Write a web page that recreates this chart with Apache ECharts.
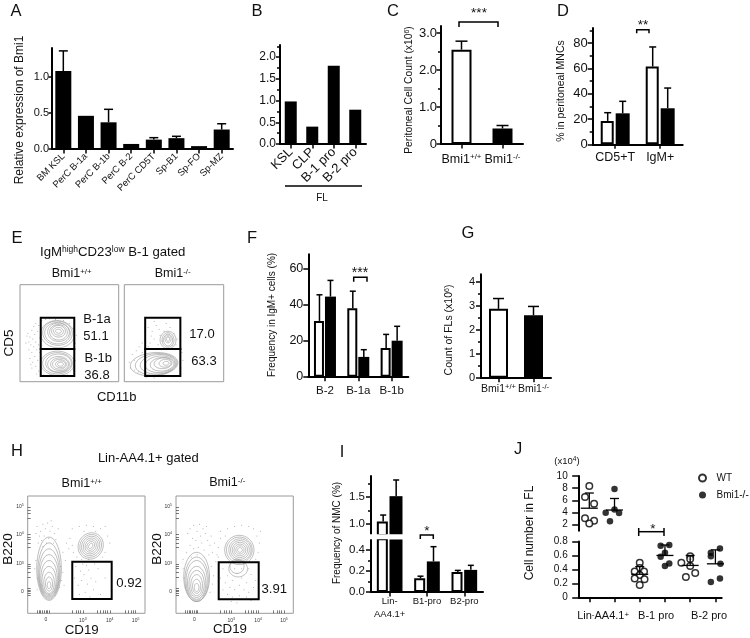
<!DOCTYPE html>
<html>
<head>
<meta charset="utf-8">
<style>html,body{margin:0;padding:0;background:#fff}#chart{width:750px;height:638px}</style>
<script src="https://cdn.jsdelivr.net/npm/echarts@6/dist/echarts.min.js"></script>
</head>
<body>
<div id="chart"></div>
<script>
// panel A
const catsA = ['BM KSL', 'PerC B-1a', 'PerC B-1b', 'PerC B-2', 'PerC CD5T', 'Sp-B1', 'Sp-FO', 'Sp-MZ'];
const valuesA = [1.08, 0.46, 0.37, 0.07, 0.13, 0.15, 0.04, 0.27];
const errTopA = [1.36, 0.46, 0.55, 0.07, 0.157, 0.176, 0.04, 0.35];
// panel B
const catsB = ['KSL', 'CLP', 'B-1 pro', 'B-2 pro'];
const valuesB = [0.98, 0.4, 1.8, 0.79];
// panel C
const catsC = ['{n|Bmi1}{s|+/+}', '{n|Bmi1}{s|-/-}'];
const valuesC = [2.55, 0.42];
const errTopC = [2.78, 0.5];
// panel D
const catsD = ['CD5+T', 'IgM+'];
const wtD = [18.5, 61.5];
const koD = [24.5, 28.5];
const wtErrD = [25, 77];
const koErrD = [34, 44.5];
// panel F
const catsF = ['B-2', 'B-1a', 'B-1b'];
const wtF = [31, 38, 16];
const koF = [44.5, 11, 20];
const wtErrF = [45.5, 47.5, 23.5];
const koErrF = [53.5, 15, 28];
// panel G
const catsG = ['{n|Bmi1}{s|+/+}', '{n|Bmi1}{s|-/-}'];
const valuesG = [2.87, 2.6];
const errTopG = [3.3, 2.97];
// panel I
const catsI = ['Lin-\nAA4.1+', 'B1-pro', 'B2-pro'];
const wtI = [1.05, 0.13, 0.19];
const koI = [1.52, 0.29, 0.21];
const wtErrI = [1.17, 0.15, 0.205];
const koErrI = [1.82, 0.43, 0.253];
// panel J, x is the tick number with its jitter
const wtHighJ = [[1, 8.35], [0.83, 6.55], [1.19, 5.45], [0.83, 3.05], [1.19, 2.65], [1, 2.2]];
const koHighJ = [[2, 7.85], [1.65, 3.95], [2, 4.5], [2.18, 3.9], [1.82, 2.55]];
const wtLowJ = [[3, 0.495], [3, 0.42], [2.8, 0.37], [3.17, 0.37], [3, 0.32], [2.8, 0.27], [3.19, 0.26], [3, 0.176],
  [5, 0.59], [5, 0.55], [4.65, 0.495], [5, 0.45], [5.2, 0.35], [4.83, 0.29]];
const koLowJ = [[3.83, 0.74], [4.17, 0.75], [4, 0.64], [3.83, 0.58], [4.17, 0.485], [4, 0.45],
  [5.82, 0.64], [6.18, 0.7], [5.82, 0.59], [6.2, 0.48], [6.18, 0.27], [5.82, 0.22]];
// [x, mean, top of error bar]
const summaryHighJ = [[1, 4.7, 7.2], [2, 4.4, 6.3]];
const summaryLowJ = [[3, 0.33, 0.44], [4, 0.6, 0.75], [5, 0.457, 0.6], [6, 0.48, 0.68]];
const labelsJ = ['{n|Lin}{s|-}{n|AA4.1}{s|+}', 'B-1 pro', 'B-2 pro'];
const labelTicksJ = [1.55, 3.65, 5.75];

// flow plots, display channels 0-100. contours are [cx, cy, rx, ry, tilt]
const gatesEwt = [[21, 33.7, 55, 66], [21, 5.8, 55, 33.7]];
const gatesEko = [[21, 33.7, 56.4, 66], [21, 5.8, 56.4, 33.7]];
const contoursEwt = [[38, 49, 17, 14, -6], [38, 50, 15, 12.5, -6], [38, 50, 13, 11, -6], [39, 51, 11, 9.5, -6], [39, 51, 9, 8, -6], [39, 52, 7, 6, -6], [39, 52, 5, 4, -6], [39, 52, 3, 2, -6],
  [38, 19, 17, 12.5, 0], [38, 19, 15, 11, 0], [39, 19, 13, 9.5, 0], [39, 18, 11, 8, 0], [40, 18, 9, 6.5, 0], [40, 18, 7, 5, 0], [41, 18, 5, 3.5, 0], [41, 18, 3, 2, 0]];
const contoursEko = [[30, 18, 24, 12, 5], [32, 18, 21, 11, 5], [34, 18, 18, 10, 5], [36, 18, 15, 8.5, 5], [38, 18, 12, 7, 5], [39, 19, 9, 5.5, 5], [41, 19, 6, 4, 5], [42, 19, 3, 2, 5],
  [44, 43, 8, 9, 0], [44, 43, 6, 7.5, 0], [44, 43, 4.5, 6, 0], [44, 44, 3, 4, 0], [44, 44, 1.5, 2.5, 0]];
const dotsEwt = [[8, 50], [10, 46], [12, 53], [9, 41], [13, 44], [15, 49], [11, 38], [14, 36], [16, 41], [12, 30], [15, 26], [17, 33], [10, 24], [13, 20], [16, 16], [18, 22], [12, 14], [19, 11], [17, 8], [20, 45], [18, 52], [19, 58], [14, 57], [16, 60], [22, 63], [26, 64], [30, 65], [36, 64], [44, 63], [50, 60], [54, 55], [57, 48], [56, 40], [55, 30], [56, 22], [54, 12], [48, 7], [40, 6], [30, 7], [24, 7], [9, 33], [7, 47], [6, 40], [11, 18], [20, 30], [19, 38]];
const dotsEko = [[24, 56], [28, 52], [32, 58], [36, 48], [30, 44], [26, 40], [34, 38], [40, 52], [46, 56], [50, 50], [53, 44], [24, 36], [38, 42], [48, 37], [42, 60], [30, 62], [52, 38], [35, 54], [44, 46], [27, 47], [10, 22], [8, 28], [12, 32], [15, 36], [18, 40], [6, 14], [10, 12], [14, 10], [18, 30], [5, 20], [58, 30], [59, 22], [57, 14], [22, 4], [30, 4], [40, 5], [50, 5]];

const gatesHwt = [[38, 12.2, 71.6, 44]];
const gatesHko = [[36.4, 12, 70.5, 43.5]];
const contoursHwt = [[18.2, 38, 10.5, 27, 0], [18.2, 36, 9.5, 24, 0], [18.2, 34, 8.7, 21, 0], [18.2, 32, 8, 18, 0], [18.2, 30, 7, 15, 0], [18.2, 28, 6, 12, 0], [18.2, 26, 4.5, 9, 0], [18.2, 25, 3, 6, 0], [18.2, 24, 1.5, 3, 0],
  [53.7, 57.4, 10.5, 11.5, -30], [53.7, 57.4, 9, 10, -30], [53.7, 57.4, 7.5, 8.5, -30], [53.7, 57.4, 6, 7, -30], [53.7, 57.4, 4.5, 5.5, -30], [53.7, 57.4, 3, 4, -30], [53.7, 57.4, 1.5, 2.5, -30]];
const contoursHko = [[17.6, 31, 11, 21, 0], [17.6, 29, 10, 19, 0], [17.6, 28, 9, 17, 0], [17.6, 26, 7.8, 14, 0], [17.6, 25, 6.5, 11.5, 0], [17.6, 24, 5, 9, 0], [17.6, 23, 3.5, 6, 0], [17.6, 22, 2, 3.5, 0],
  [53, 38, 8, 7, 0], [52, 40, 6, 6, 0],
  [54, 54, 12.5, 12.5, -30], [54, 54, 11, 11, -30], [54.5, 54, 9.5, 9.5, -30], [54.5, 54, 8, 8, -30], [54.5, 54, 6.5, 6.5, -30], [54.5, 54, 5, 5, -30], [54.5, 54, 3.5, 3.5, -30], [54.5, 54, 2, 2, -30]];
const dotsHwt = [[8, 74], [11, 70], [13, 76], [10, 66], [15, 72], [17, 77], [19, 70], [14, 66], [21, 74], [23, 68], [12, 62], [18, 64], [16, 60], [24, 63], [9, 60], [26, 72], [20, 79], [7, 68], [22, 60], [13, 57],
  [7, 45], [6, 38], [8, 30], [28, 40], [30, 35], [29, 28], [27, 22], [32, 45], [30, 52], [8, 20], [31, 24],
  [38, 72], [44, 74], [50, 75], [56, 74], [62, 72], [66, 74], [36, 64], [38, 58], [39, 52], [35, 55], [68, 66], [70, 60], [66, 52], [64, 48], [60, 44], [46, 46], [42, 48], [52, 46], [48, 70], [58, 70], [33, 60],
  [41, 40], [45, 36], [50, 41], [52, 37], [48, 33], [54, 30], [46, 28], [43, 24], [51, 25], [58, 27], [60, 38], [56, 20], [49, 18], [62, 16], [44, 16], [66, 30], [40, 30], [53, 14], [57, 42], [47, 42]];
const dotsHko = [[10, 68], [12, 72], [15, 75], [18, 70], [20, 76], [23, 72], [14, 64], [17, 62], [21, 66], [25, 68], [27, 62], [29, 58], [12, 58], [15, 55], [19, 56], [24, 54], [28, 50], [31, 52], [9, 52], [22, 60], [26, 74], [18, 50], [13, 48], [30, 66], [33, 60],
  [6, 38], [7, 30], [8, 22], [30, 40], [32, 32], [31, 25], [34, 44], [35, 50], [6, 46], [29, 18],
  [38, 70], [44, 72], [50, 74], [56, 75], [62, 74], [66, 72], [69, 66], [71, 60], [70, 52], [68, 46], [36, 56], [38, 64], [36, 48], [72, 70], [42, 66],
  [40, 38], [44, 32], [48, 28], [52, 34], [56, 30], [60, 26], [64, 33], [42, 26], [46, 22], [50, 20], [54, 24], [58, 20], [62, 18], [66, 22], [44, 16], [48, 14], [54, 15], [60, 14], [40, 20], [68, 28], [38, 30], [56, 38], [62, 38], [50, 38], [52, 9], [64, 11], [47, 10]];
const flowTicksX = [8, 9.5, 11, 12.5, 14, 15.6, 17, 18.5, 38, 41, 43, 45, 47, 59, 62, 64, 66, 68, 70, 83, 86, 88, 90, 92];
const flowTicksY = [15.6, 17, 18.5, 20, 21.5, 31, 35, 38, 40, 42, 56, 60, 63, 65, 67, 81, 85, 88, 90.6];
const flowLabelPosX = [15.6, 47, 70, 92];
const flowLabelPosY = [18.5, 42, 67, 90.6];
const flowLabels = ['0', '10{t|3}', '10{t|4}', '10{t|5}'];

const FONT = '"Liberation Sans", Arial, sans-serif';
const grids = [], xAxes = [], yAxes = [], series = [], graphics = [];

function supRich(size, supSize, rise) {
  return {
    n: {fontSize: size, fontFamily: FONT, color: '#111'},
    s: {fontSize: supSize, fontFamily: FONT, color: '#111', padding: [0, 0, rise, 0]}
  };
}

// one bar panel: a grid, its category axis, a value axis and a second one for the short ticks
function addAxes(box, c) {
  const g = grids.length;
  grids.push({left: box[0], top: box[1], width: box[2], height: box[3]});
  xAxes.push({
    type: 'category', gridIndex: g, data: c.cats,
    show: c.showX !== false,
    axisLine: {lineStyle: {color: '#000', width: 2}},
    axisTick: {show: true, alignWithLabel: true, length: 4.5, lineStyle: {color: '#000', width: 1.5}},
    axisLabel: {
      interval: 0, color: '#111', fontFamily: FONT, fontSize: c.xSize || 12,
      rotate: c.rotate || 0, margin: c.xMargin || 8, lineHeight: 13,
      rich: c.xRich
    }
  });
  const y = yAxes.length;
  yAxes.push({
    type: 'value', gridIndex: g, position: 'left', min: c.range[0], max: c.range[1],
    splitLine: {show: false},
    axisLine: {show: true, onZero: false, lineStyle: {color: '#000', width: 2}},
    axisTick: {show: true, customValues: c.ticks, length: c.tick || 5, lineStyle: {color: '#000', width: 1.5}},
    axisLabel: {
      customValues: c.ticks, color: '#111', fontFamily: FONT, fontSize: c.ySize || 12, margin: c.yMargin || 5,
      formatter: v => (v === 0 && c.plainZero) ? '0' : v.toFixed(c.digits)
    }
  });
  if (c.minor) {
    yAxes.push({
      type: 'value', gridIndex: g, position: 'left', min: c.range[0], max: c.range[1],
      splitLine: {show: false}, axisLine: {show: false}, axisLabel: {show: false},
      axisTick: {show: true, customValues: c.minor, length: 3, lineStyle: {color: '#000', width: 1.5}}
    });
  }
  return {x: g, y: y};
}

function addBars(ax, values, filled, width, gap) {
  series.push({
    type: 'bar', xAxisIndex: ax.x, yAxisIndex: ax.y, data: values, barWidth: width, barGap: gap,
    itemStyle: {color: filled ? '#000' : '#fff', borderColor: '#000', borderWidth: filled ? 0 : 2},
    silent: true
  });
}

// upper arm of the error bar, shifted sideways to sit on its bar
function addErrors(ax, values, tops, offset, cap) {
  const data = values.map((v, i) => [i, v, tops[i]]).filter(d => d[1] != null && d[2] > d[1]);
  series.push({
    type: 'custom', xAxisIndex: ax.x, yAxisIndex: ax.y, data: data, silent: true, z: 3,
    encode: {x: 0, y: 2},
    renderItem: (params, api) => {
      const base = api.coord([api.value(0), api.value(1)]);
      const top = api.coord([api.value(0), api.value(2)]);
      const x = base[0] + offset;
      return {
        type: 'group', children: [
          {type: 'line', shape: {x1: x, y1: base[1], x2: x, y2: top[1]}, style: {stroke: '#000', lineWidth: 1.5}},
          {type: 'line', shape: {x1: x - cap / 2, y1: top[1], x2: x + cap / 2, y2: top[1]}, style: {stroke: '#000', lineWidth: 1.5}}
        ]
      };
    }
  });
}

// panel A
const axA = addAxes([52, 48, 181, 101], {cats: catsA, range: [0, 1.4], ticks: [0, 0.5, 1], digits: 1, ySize: 11, yMargin: 3, tick: 3.5, xSize: 9.5, rotate: 45, xMargin: 6});
addBars(axA, valuesA, true, 16);
addErrors(axA, valuesA, errTopA, 0, 9);
// panel B
const axB = addAxes([280, 45, 86, 99], {cats: catsB, range: [0, 2.28], ticks: [0, 0.5, 1, 1.5, 2], minor: [0.25, 0.75, 1.25, 1.75, 2.25], digits: 1, ySize: 12, yMargin: 4, tick: 4, xSize: 13, rotate: 45, xMargin: 6});
addBars(axB, valuesB, true, 12);
// panel C
const axC = addAxes([441, 26, 82, 118], {cats: catsC, range: [0, 3.19], ticks: [0, 1, 2, 3], minor: [0.5, 1.5, 2.5], digits: 1, plainZero: true, ySize: 13, yMargin: 4, tick: 4.5, xMargin: 9, xRich: supRich(12.5, 8, 6)});
addBars({x: axC.x, y: axC.y}, [{value: valuesC[0]}, {value: valuesC[1], itemStyle: {color: '#000'}}], false, 20);
addErrors(axC, valuesC, errTopC, 0, 12);
// panel D
const axD = addAxes([592.7, 28, 90, 116.3], {cats: catsD, range: [0, 92], ticks: [0, 20, 40, 60, 80], minor: [10, 30, 50, 70, 90], digits: 0, ySize: 13, xSize: 12.5, xMargin: 7});
addBars(axD, wtD, false, 13, '15%');
addBars(axD, koD, true, 14, '15%');
addErrors(axD, wtD, wtErrD, -7.5, 7);
addErrors(axD, koD, koErrD, 7.5, 7);
// panel F
const axF = addAxes([308.3, 254.3, 100, 122.4], {cats: catsF, range: [0, 68], ticks: [0, 20, 40, 60], digits: 0, ySize: 12.5, xSize: 11.5, xMargin: 8});
addBars(axF, wtF, false, 10, '10%');
addBars(axF, koF, true, 11, '10%');
addErrors(axF, wtF, wtErrF, -5.5, 6);
addErrors(axF, koF, koErrF, 5.5, 6);
// panel G
const axG = addAxes([481, 274.3, 70, 103.4], {cats: catsG, range: [0, 4.31], ticks: [0, 1, 2, 3, 4], minor: [0.5, 1.5, 2.5, 3.5], digits: 0, ySize: 11, yMargin: 6, xMargin: 5, xRich: supRich(10.5, 7.5, 4)});
addBars(axG, [{value: valuesG[0]}, {value: valuesG[1], itemStyle: {color: '#000'}}], false, 19);
addErrors(axG, valuesG, errTopG, 0, 11);
// panel I, broken axis
const axIhigh = addAxes([371, 476, 112, 59], {cats: catsI, showX: false, range: [0.8, 1.894], ticks: [1, 1.5], minor: [1.25, 1.75], digits: 1, ySize: 11.5, yMargin: 6});
const axIlow = addAxes([371, 539.3, 112, 52.7], {cats: catsI, range: [0, 0.5], ticks: [0, 0.2, 0.4], minor: [0.1, 0.3], digits: 1, ySize: 11.5, yMargin: 6, xSize: 9.5, xMargin: 3});
const highOnly = a => a.map(v => v >= 0.8 ? v : null);
const lowOnly = (tops, vals) => tops.map((t, i) => vals[i] < 0.5 ? t : null);
addBars(axIhigh, highOnly(wtI), false, 11, '15%');
addBars(axIhigh, highOnly(koI), true, 13, '15%');
addErrors(axIhigh, highOnly(wtI), wtErrI, -6.5, 6);
addErrors(axIhigh, highOnly(koI), koErrI, 6.5, 6);
addBars(axIlow, wtI, false, 11, '15%');
addBars(axIlow, koI, true, 13, '15%');
addErrors(axIlow, wtI.map(v => v < 0.5 ? v : null), lowOnly(wtErrI, wtI), -6.5, 6);
addErrors(axIlow, koI.map(v => v < 0.5 ? v : null), lowOnly(koErrI, koI), 6.5, 6);

// panel J, broken axis with dots
function addDotAxes(box, range, ticks, opts) {
  const g = grids.length;
  grids.push({left: box[0], top: box[1], width: box[2], height: box[3]});
  xAxes.push({
    type: 'value', gridIndex: g, min: 0.58, max: 6.25, show: opts.showX, splitLine: {show: false},
    axisLine: {onZero: false, lineStyle: {color: '#000', width: 2}},
    axisTick: {customValues: [1, 2, 3, 4, 5, 6], length: 5, lineStyle: {color: '#000', width: 1.5}},
    axisLabel: {
      customValues: labelTicksJ, color: '#111', fontFamily: FONT, fontSize: 11, margin: 13,
      formatter: v => labelsJ[labelTicksJ.indexOf(v)], rich: supRich(11, 8, 4)
    }
  });
  const y = yAxes.length;
  yAxes.push({
    type: 'value', gridIndex: g, position: 'left', min: range[0], max: range[1], splitLine: {show: false},
    axisLine: {show: true, onZero: false, lineStyle: {color: '#000', width: 2}},
    axisTick: {show: true, customValues: ticks, length: 6.5, lineStyle: {color: '#000', width: 1.5}},
    axisLabel: {customValues: ticks, color: '#111', fontFamily: FONT, fontSize: 10, margin: 11, formatter: v => String(v)}
  });
  return {x: g, y: y};
}
const axJhigh = addDotAxes([578.7, 476, 143, 54.7], [1, 10], [2, 4, 6, 8, 10], {showX: false});
const axJlow = addDotAxes([578.7, 541.5, 143, 55.8], [0, 0.8], [0, 0.2, 0.4, 0.6, 0.8], {showX: true});

function addDots(ax, name, data, open) {
  series.push({
    type: 'scatter', name: name, xAxisIndex: ax.x, yAxisIndex: ax.y, data: data, silent: true, z: 4,
    symbol: 'circle', symbolSize: 6.5,
    itemStyle: open ? {color: '#fff', borderColor: '#000', borderWidth: 1.5} : {color: '#000'}
  });
}
function addSummary(ax, data) {
  series.push({
    type: 'custom', xAxisIndex: ax.x, yAxisIndex: ax.y, data: data, silent: true, z: 5,
    encode: {x: 0, y: 2},
    renderItem: (params, api) => {
      const mean = api.coord([api.value(0), api.value(1)]);
      const top = api.coord([api.value(0), api.value(2)]);
      const st = {stroke: '#000', lineWidth: 1.3};
      return {
        type: 'group', children: [
          {type: 'line', shape: {x1: mean[0] - 8.5, y1: mean[1], x2: mean[0] + 8.5, y2: mean[1]}, style: st},
          {type: 'line', shape: {x1: mean[0], y1: mean[1], x2: mean[0], y2: top[1]}, style: st},
          {type: 'line', shape: {x1: mean[0] - 4.5, y1: top[1], x2: mean[0] + 4.5, y2: top[1]}, style: st}
        ]
      };
    }
  });
}
addDots(axJhigh, 'WT', wtHighJ, true);
addDots(axJhigh, 'Bmi1-/-', koHighJ, false);
addDots(axJlow, 'WT', wtLowJ, true);
addDots(axJlow, 'Bmi1-/-', koLowJ, false);
addSummary(axJhigh, summaryHighJ);
addSummary(axJlow, summaryLowJ);

// flow plots
function addFlow(box, contours, dots, gates, withTicks) {
  const g = grids.length;
  grids.push({left: box[0], top: box[1], width: box[2], height: box[3], show: true, borderColor: '#9a9a9a', borderWidth: 1, backgroundColor: '#fff'});
  const tinyRich = {t: {fontSize: 3.5, color: '#333', padding: [0, 0, 3, 0]}};
  const axisFor = (ticks, labelPos) => ({
    type: 'value', gridIndex: g, min: 0, max: 100, splitLine: {show: false},
    show: withTicks, axisLine: {show: false},
    axisTick: {show: true, inside: true, customValues: ticks, length: 3, lineStyle: {color: '#222', width: 0.6}},
    axisLabel: {
      customValues: labelPos, fontSize: 5, color: '#333', fontFamily: FONT, margin: 4, rich: tinyRich,
      formatter: v => flowLabels[labelPos.indexOf(v)]
    }
  });
  xAxes.push(axisFor(flowTicksX, flowLabelPosX));
  const y = yAxes.length;
  yAxes.push(axisFor(flowTicksY, flowLabelPosY));
  series.push({
    type: 'scatter', xAxisIndex: g, yAxisIndex: y, data: dots, silent: true, symbolSize: 1,
    itemStyle: {color: '#888'}, z: 2
  });
  series.push({
    type: 'custom', xAxisIndex: g, yAxisIndex: y, data: contours, silent: true, z: 3,
    encode: {x: 0, y: 1},
    renderItem: (params, api) => {
      const cx = api.value(0), cy = api.value(1), rx = api.value(2), ry = api.value(3);
      const tilt = api.value(4) * Math.PI / 180;
      const pts = [];
      for (let i = 0; i <= 40; i++) {
        const t = i / 40 * Math.PI * 2;
        const ex = rx * Math.cos(t), ey = ry * Math.sin(t);
        pts.push(api.coord([cx + ex * Math.cos(tilt) - ey * Math.sin(tilt), cy + ex * Math.sin(tilt) + ey * Math.cos(tilt)]));
      }
      return {type: 'polyline', shape: {points: pts}, style: {stroke: '#949494', fill: null, lineWidth: 0.6}};
    }
  });
  series.push({
    type: 'custom', xAxisIndex: g, yAxisIndex: y, data: gates, silent: true, z: 4,
    encode: {x: [0, 2], y: [1, 3]},
    renderItem: (params, api) => {
      const a = api.coord([api.value(0), api.value(1)]);
      const b = api.coord([api.value(2), api.value(3)]);
      return {
        type: 'rect', shape: {x: a[0], y: b[1], width: b[0] - a[0], height: a[1] - b[1]},
        style: {stroke: '#000', fill: null, lineWidth: 2}
      };
    }
  });
}
addFlow([20, 284.7, 98.7, 97], contoursEwt, dotsEwt, gatesEwt, false);
addFlow([124.3, 284.7, 99.4, 97], contoursEko, dotsEko, gatesEko, false);
addFlow([27.7, 496, 117.3, 117.3], contoursHwt, dotsHwt, gatesHwt, true);
addFlow([176, 496, 117.3, 117.3], contoursHko, dotsHko, gatesHko, true);

// text and brackets
function text(x, y, str, size, opts) {
  opts = opts || {};
  graphics.push({
    type: 'text', x: x, y: y, rotation: opts.vertical ? Math.PI / 2 : 0, silent: true,
    style: {
      text: str, fontSize: size, fontFamily: FONT, fill: '#111', align: opts.align || 'center', verticalAlign: 'middle',
      rich: opts.sup ? supRich(size, opts.sup, opts.rise || 5) : undefined
    }
  });
}
function bracket(x1, x2, y, drop) {
  graphics.push({
    type: 'polyline', silent: true,
    shape: {points: [[x1, y + drop], [x1, y], [x2, y], [x2, y + drop]]},
    style: {stroke: '#000', fill: null, lineWidth: 1.5}
  });
}
[['A', 16, 11], ['B', 257, 11], ['C', 393, 11], ['D', 563, 11], ['E', 17, 238], ['F', 252, 238], ['G', 468, 233], ['H', 17, 451], ['I', 342, 452], ['J', 518, 449]]
  .forEach(p => text(p[1], p[2], p[0], 16.5));

text(19.5, 110, 'Relative expression of Bmi1', 12, {vertical: true});
text(409, 90, '{n|Peritoneal Cell Count (x10}{s|6}{n|)}', 10.3, {vertical: true, sup: 7, rise: 4});
text(560.7, 91, '% in peritoneal MNCs', 10.5, {vertical: true});
text(322, 198, 'FL', 10);
graphics.push({type: 'line', silent: true, shape: {x1: 285, y1: 186, x2: 362, y2: 186}, style: {stroke: '#000', lineWidth: 1.3}});
bracket(459, 498, 22, 5);
text(479, 13, '***', 13.5);
bracket(636.7, 649, 29.7, 3.5);
text(643, 25, '**', 13.5);

text(112.7, 252, '{n|IgM}{s|high}{n|CD23}{s|low}{n| B-1 gated}', 13.2, {sup: 8.5});
text(71.7, 274, '{n|Bmi1}{s|+/+}', 12.5, {sup: 8});
text(172.7, 274, '{n|Bmi1}{s|-/-}', 12.5, {sup: 8});
text(9.5, 343, 'CD5', 13.5, {vertical: true});
text(116.7, 397.5, 'CD11b', 13);
text(97, 319.5, 'B-1a', 13);
text(96, 336.5, '51.1', 13);
text(98.3, 358.5, 'B-1b', 13);
text(97, 375, '36.8', 13);
text(202, 334, '17.0', 13);
text(204, 361.7, '63.3', 13);

text(272.3, 315, 'Frequency in IgM+ cells (%)', 10, {vertical: true});
bracket(353.7, 367, 277.3, 4.5);
text(360, 273, '***', 14);
text(449.3, 330, '{n|Count of FLs (x10}{s|6}{n|)}', 10.5, {vertical: true, sup: 7, rise: 4});

text(148.3, 458, 'Lin-AA4.1+ gated', 13);
text(81.7, 484, '{n|Bmi1}{s|+/+}', 12.6, {sup: 8});
text(227.3, 483, '{n|Bmi1}{s|-/-}', 12.6, {sup: 8});
text(8.5, 549, 'B220', 13.5, {vertical: true});
text(157, 549, 'B220', 13.5, {vertical: true});
text(81.7, 630, 'CD19', 13.3);
text(230, 629.5, 'CD19', 13.3);
text(129, 583, '0.92', 13.2);
text(274.3, 589, '3.91', 13.2);

text(337, 533, 'Frequency of NMC (%)', 10, {vertical: true});
// white strip that makes the break across axis I's bars
graphics.push({type: 'rect', silent: true, z: 50, shape: {x: 370, y: 534.2, width: 112, height: 5}, style: {fill: '#fff'}});
graphics.push({type: 'polyline', silent: true, z: 51, shape: {points: [[420.3, 539], [420.3, 535], [433.3, 535], [433.3, 539]]}, style: {stroke: '#000', fill: null, lineWidth: 1.5}});
text(427, 531, '*', 13.5);

text(529.3, 533, 'Cell number in FL', 12, {vertical: true});
text(567, 461, '{n|(x10}{s|4}{n|)}', 9.5, {sup: 6.5, rise: 4});
bracket(638.7, 664, 531.7, 0);
graphics.push({type: 'line', silent: true, shape: {x1: 638.7, y1: 528, x2: 638.7, y2: 536}, style: {stroke: '#000', lineWidth: 1.5}});
graphics.push({type: 'line', silent: true, shape: {x1: 664, y1: 528, x2: 664, y2: 536}, style: {stroke: '#000', lineWidth: 1.5}});
text(653, 529, '*', 13.5);

const chart = echarts.init(document.getElementById('chart'), null, {renderer: 'canvas'});
chart.setOption({
  animation: false,
  backgroundColor: '#fff',
  tooltip: {show: false},
  legend: {
    left: 693, top: 468, orient: 'vertical', selectedMode: false,
    itemWidth: 18, itemHeight: 7, itemGap: 7,
    textStyle: {fontFamily: FONT, fontSize: 10, color: '#111'},
    data: [{name: 'WT', icon: 'circle'}, {name: 'Bmi1-/-', icon: 'circle'}]
  },
  grid: grids,
  xAxis: xAxes,
  yAxis: yAxes,
  series: series,
  graphic: graphics
});
</script>
</body>
</html>
